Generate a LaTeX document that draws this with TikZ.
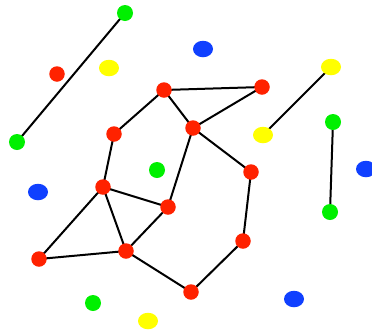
\documentclass[tikz,border=0pt]{standalone}
\usetikzlibrary{backgrounds,shapes.geometric}
\definecolor{dotred}{RGB}{255,34,0}
\definecolor{dotgreen}{RGB}{0,240,0}
\definecolor{dotblue}{RGB}{16,64,255}
\definecolor{dotyellow}{RGB}{255,255,0}
\begin{document}
\begin{tikzpicture}[x=1pt,y=-1pt,
  dot/.style={circle,inner sep=0pt,minimum size=15.5pt},
  wdot/.style={ellipse,inner sep=0pt,minimum width=20pt,minimum height=16.5pt},
  rd/.style={dot,fill=dotred},
  gd/.style={dot,fill=dotgreen,minimum size=16pt},
  bd/.style={wdot,fill=dotblue},
  yd/.style={wdot,fill=dotyellow},
  edge/.style={draw=black,line width=2pt}]
\useasboundingbox (0,0) rectangle (372,330);
% green
\node[gd] (g1) at (125,13) {};
\node[gd] (g2) at (17,142) {};
\node[gd] (g3) at (157,170) {};
\node[gd] (g4) at (333,122) {};
\node[gd] (g5) at (330,212) {};
\node[gd] (g6) at (93,303) {};
% yellow
\node[yd] (y1) at (109,68) {};
\node[yd] (y2) at (331,67) {};
\node[yd] (y3) at (263,135) {};
\node[yd] (y4) at (148,321) {};
% blue
\node[bd] (b1) at (203,49) {};
\node[bd] (b2) at (38,192) {};
\node[bd] (b3) at (366,169) {};
\node[bd] (b4) at (294,299) {};
% red
\node[rd] (r0) at (57,74) {};
\node[rd] (r1) at (164,90) {};
\node[rd] (r2) at (262,87) {};
\node[rd] (r3) at (114,134) {};
\node[rd] (r4) at (193,128) {};
\node[rd] (r5) at (251,172) {};
\node[rd] (r6) at (103,187) {};
\node[rd] (r7) at (168,207) {};
\node[rd] (r8) at (243,241) {};
\node[rd] (r9) at (39,259) {};
\node[rd] (r10) at (126,251) {};
\node[rd] (r11) at (191,292) {};
\begin{scope}[on background layer]
\draw[edge] (g1.center) -- (g2.center);
\draw[edge] (y2.center) -- (y3.center);
\draw[edge] (g4.center) -- (g5.center);
\draw[edge] (r1.center) -- (r2.center);
\draw[edge] (r1.center) -- (r4.center);
\draw[edge] (r2.center) -- (r4.center);
\draw[edge] (r1.center) -- (r3.center);
\draw[edge] (r3.center) -- (r6.center);
\draw[edge] (r4.center) -- (r5.center);
\draw[edge] (r4.center) -- (r7.center);
\draw[edge] (r5.center) -- (r8.center);
\draw[edge] (r8.center) -- (r11.center);
\draw[edge] (r11.center) -- (r10.center);
\draw[edge] (r6.center) -- (r7.center);
\draw[edge] (r6.center) -- (r9.center);
\draw[edge] (r6.center) -- (r10.center);
\draw[edge] (r7.center) -- (r10.center);
\draw[edge] (r9.center) -- (r10.center);
\end{scope}
\end{tikzpicture}
\end{document}
